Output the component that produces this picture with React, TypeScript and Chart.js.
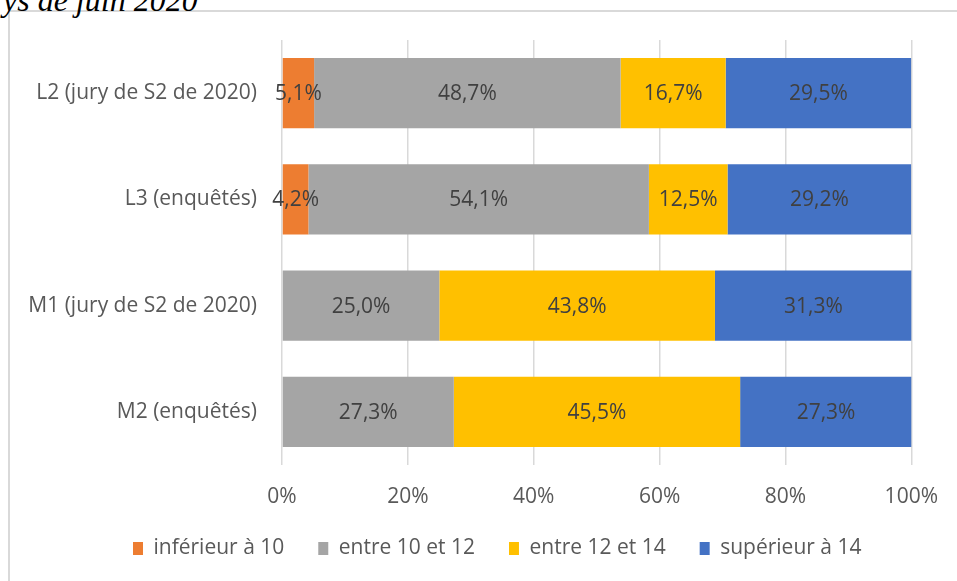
import React, { useEffect, useRef } from 'react';
import { Chart, registerables } from 'chart.js';

Chart.register(...registerables);

const categories = ['L2 (jury de S2 de 2020)', 'L3 (enquêtés)', 'M1 (jury de S2 de 2020)', 'M2 (enquêtés)'];
const seriesNames = ['inférieur à 10', 'entre 10 et 12', 'entre 12 et 14', 'supérieur à 14'];
const inferieur10: (number | null)[] = [5.1, 4.2, null, null];
const entre10et12 = [48.7, 54.1, 25.0, 27.3];
const entre12et14 = [16.7, 12.5, 43.8, 45.5];
const superieur14 = [29.5, 29.2, 31.3, 27.3];
const xTickLabels = ['0%', '20%', '40%', '60%', '80%', '100%'];
const seriesColors = ['#ED7D31', '#A5A5A5', '#FFC000', '#4472C4'];

const FONT = 'Open Sans';

const dataLabelPlugin = {
  id: 'dataLabels',
  afterDatasetsDraw(chart: any) {
    const ctx = chart.ctx;
    ctx.save();
    ctx.font = `21px "${FONT}"`;
    ctx.fillStyle = '#404040';
    ctx.textAlign = 'center';
    ctx.textBaseline = 'middle';
    chart.data.datasets.forEach((ds: any, di: number) => {
      const meta = chart.getDatasetMeta(di);
      meta.data.forEach((bar: any, i: number) => {
        const v = ds.data[i];
        if (v == null) return;
        const cx = (bar.x + bar.base) / 2;
        const txt = v.toFixed(1).replace('.', ',') + '%';
        ctx.fillText(txt, cx, bar.y + 1);
      });
    });
    ctx.restore();
  },
};

const legendShiftPlugin = {
  id: 'legendShift',
  beforeDraw(chart: any) {
    if (chart.legend) chart.legend.left = 99;
  },
};

export default function App() {
  const ref = useRef<HTMLCanvasElement>(null);
  useEffect(() => {
    if (!ref.current) return;
    Chart.defaults.font.family = FONT;
    const seriesData = [inferieur10, entre10et12, entre12et14, superieur14];
    const chart = new Chart(ref.current, {
      type: 'bar',
      data: {
        labels: categories,
        datasets: seriesNames.map((name, k) => ({
          label: name,
          data: seriesData[k],
          backgroundColor: seriesColors[k],
          borderWidth: 0,
          barPercentage: 0.66,
          categoryPercentage: 1,
        })),
      },
      options: {
        indexAxis: 'y',
        responsive: false,
        animation: false,
        layout: { padding: { top: 40, right: 45, bottom: 12, left: 0 } },
        plugins: {
          legend: {
            position: 'bottom',
            align: 'start',
            labels: {
              boxWidth: 10,
              boxHeight: 13,
              padding: 34,
              color: '#595959',
              font: { size: 21, family: FONT },
            },
          },
          tooltip: { enabled: false },
        },
        scales: {
          x: {
            stacked: true,
            min: 0,
            max: 100,
            border: { display: false },
            grid: { color: '#D9D9D9', lineWidth: 1.5, drawTicks: false },
            ticks: {
              stepSize: 20,
              padding: 19,
              color: '#595959',
              font: { size: 21, family: FONT },
              callback: (_v: any, i: number) => xTickLabels[i],
            },
            afterFit: (s: any) => { s.height = 39; },
          },
          y: {
            stacked: true,
            border: { display: false },
            grid: { display: false, drawTicks: false },
            ticks: { padding: 25, color: '#595959', font: { size: 21, family: FONT } },
            afterFit: (s: any) => { s.width = 282; },
          },
        },
      },
      plugins: [dataLabelPlugin, legendShiftPlugin],
    });
    return () => chart.destroy();
  }, []);

  return (
    <div style={{ position: 'absolute', left: 0, top: 0, width: 957, height: 581, overflow: 'hidden', background: '#fff' }}>
      <div style={{ position: 'absolute', left: 8, top: 10, width: 1200, height: 800, border: '2px solid #D9D9D9', boxSizing: 'border-box' }} />
      <div style={{ position: 'absolute', left: 3, top: -16, fontFamily: '"Liberation Serif", "Times New Roman", serif', fontStyle: 'italic', fontSize: 32, lineHeight: '32px', color: '#000', whiteSpace: 'nowrap' }}>ys de juin 2020</div>
      <canvas ref={ref} width={957} height={581} style={{ position: 'absolute', left: 0, top: 0, width: 957, height: 581 }} />
    </div>
  );
}
